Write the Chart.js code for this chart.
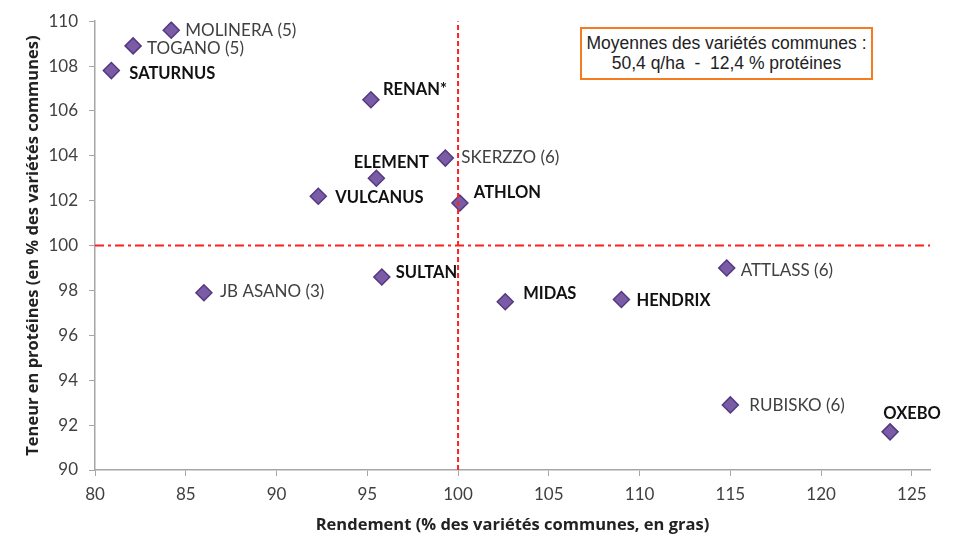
<!DOCTYPE html>
<html><head><meta charset="utf-8">
<script src="https://cdn.jsdelivr.net/npm/chart.js@4"></script>
<style>html,body{margin:0;padding:0;background:#fff}#wrap{position:relative;width:962px;height:539px}
#note{position:absolute;left:580px;top:27px;width:293px;height:53px;border:2px solid #f47b20;box-sizing:border-box;font-family:"Liberation Sans",Arial,sans-serif;font-size:17.5px;line-height:19.5px;color:#222;text-align:center;padding-top:5px;background:#fff;white-space:nowrap}
</style></head><body>
<div id="wrap"><canvas id="c" width="962" height="539"></canvas>
<div id="note">Moyennes des variétés communes :<br>50,4 q/ha &nbsp;- &nbsp;12,4 % protéines</div></div>
<script>
const varieties = ["MOLINERA (5)","TOGANO (5)","SATURNUS","RENAN*","SKERZZO (6)","ELEMENT","VULCANUS","ATHLON","SULTAN","JB ASANO (3)","MIDAS","HENDRIX","ATTLASS (6)","RUBISKO (6)","OXEBO"];
const rendement = [84.2,82.1,80.9,95.2,99.3,95.5,92.3,100.1,95.8,86.0,102.6,109.0,114.8,115.0,123.8];
const proteines = [109.6,108.9,107.8,106.5,103.9,103.0,102.2,101.9,98.6,97.9,97.5,97.6,99.0,92.9,91.7];
const commune = [false,false,true,true,false,true,true,true,true,false,true,true,false,false,true];
const xTicks = [80,85,90,95,100,105,110,115,120,125];
const yTicks = [90,92,94,96,98,100,102,104,106,108,110];
const refX = 100, refY = 100;

// label placement relative to marker: [dx, dy, align]
const labelPlace = [[14,0,'left'],[14,3,'left'],[18,3,'left'],[12,-10,'left'],[16,-1,'left'],[15,-16,'center'],[17,1,'left'],[14,-10,'left'],[14,-4,'left'],[16,-1,'left'],[18,-8,'left'],[15,1,'left'],[14,2,'left'],[19,1,'left'],[22,-18,'center']];

const points = rendement.map((x,i)=>({x:x,y:proteines[i]}));

const labelPlugin = {
  id:'labels',
  afterDatasetsDraw(chart){
    const ctx = chart.ctx;
    const meta = chart.getDatasetMeta(2);
    ctx.save();
    ctx.textBaseline='middle';
    meta.data.forEach((el,i)=>{
      const p = labelPlace[i];
      ctx.font = commune[i] ? 'bold 16.5px Lato, "Open Sans", sans-serif' : '17px Lato, "Open Sans", sans-serif';
      ctx.fillStyle = commune[i] ? '#111' : '#404040';
      ctx.textAlign = p[2];
      ctx.fillText(varieties[i], el.x + p[0], el.y + p[1]);
    });
    ctx.restore();
  }
};

const tickFont = {family:'Lato, "Open Sans", sans-serif', size:17};
const titleFont = {family:'"Open Sans", Lato, sans-serif', size:16.5, weight:'bold'};

new Chart(document.getElementById('c'), {
  type:'scatter',
  data:{datasets:[
    {type:'line', data:[{x:refX,y:90},{x:refX,y:110}], borderColor:'#ff2020', borderWidth:2, borderDash:[5,3], pointRadius:0, fill:false},
    {type:'line', data:[{x:80,y:refY},{x:126,y:refY}], borderColor:'#ff2020', borderWidth:2, borderDash:[9,4,3,4], pointRadius:0, fill:false},
    {data:points, pointStyle:'rectRot', pointRadius:8, pointHoverRadius:8, backgroundColor:'#7a5ba6', borderColor:'#55397f', borderWidth:1.5}
  ]},
  options:{
    responsive:false, animation:false,
    layout:{padding:{top:18,right:32,left:0,bottom:0}},
    plugins:{legend:{display:false}, tooltip:{enabled:false}},
    scales:{
      x:{type:'linear', min:80, max:126,
        afterBuildTicks:s=>{s.ticks = xTicks.map(v=>({value:v}));},
        afterFit:s=>{s.height=69;},
        ticks:{includeBounds:false, padding:8, color:'#404040', font:tickFont},
        grid:{drawOnChartArea:false, tickLength:6, color:'#a6a6a6', lineWidth:1},
        border:{color:'#a6a6a6', width:1.5},
        title:{display:true, text:'Rendement (% des variétés communes, en gras)', color:'#222', font:titleFont, padding:{top:0,bottom:4}}
      },
      y:{type:'linear', min:90, max:110,
        afterBuildTicks:s=>{s.ticks = yTicks.map(v=>({value:v}));},
        afterFit:s=>{s.width=95;},
        ticks:{includeBounds:false, padding:11, color:'#404040', font:tickFont},
        grid:{drawOnChartArea:false, tickLength:6, color:'#a6a6a6', lineWidth:1},
        border:{color:'#a6a6a6', width:1.5},
        title:{display:true, text:'Teneur en protéines (en % des variétés communes)', color:'#222', font:titleFont, padding:{top:23,bottom:0}}
      }
    }
  },
  plugins:[labelPlugin]
});
</script></body></html>
